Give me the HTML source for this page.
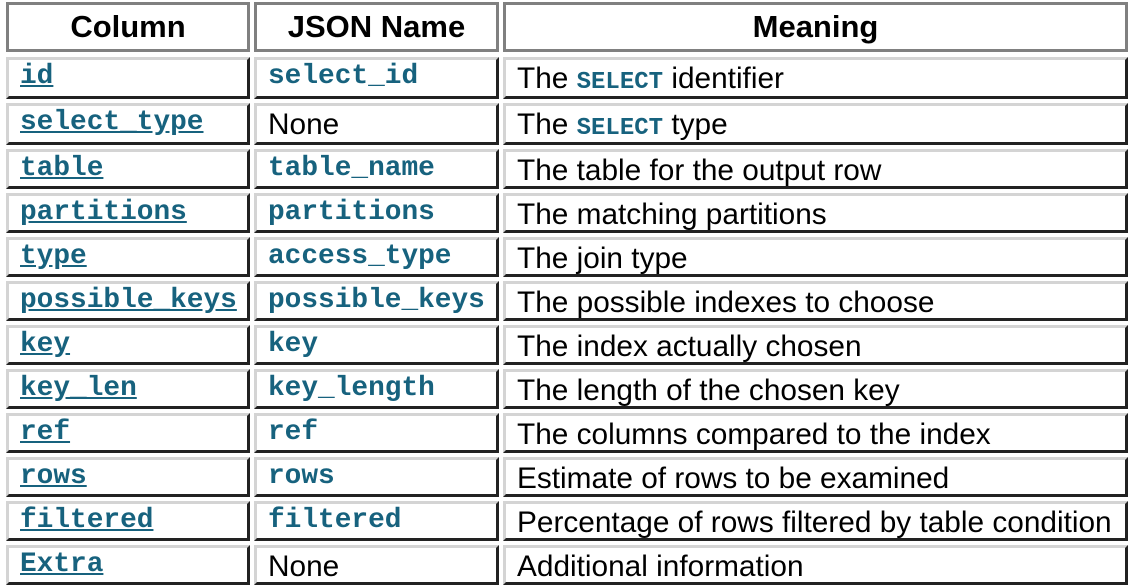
<!DOCTYPE html>
<html><head><meta charset="utf-8"><style>
body{margin:0;width:1134px;height:588px;background:#fff;position:relative;overflow:hidden;font-family:"Liberation Sans",Arial,sans-serif}
.c{position:absolute;box-sizing:border-box;border:3px solid;border-color:#d4d4d4 #222 #222 #d4d4d4;background:#fff;white-space:nowrap}
.h{position:absolute;box-sizing:border-box;border:3px solid #808080;background:#fff;font-weight:bold;font-size:31px;text-align:center;line-height:44px}
.m{font-family:"Liberation Mono","Courier New",monospace;font-weight:bold;font-size:27.8px;color:#17627e;padding-left:11px;line-height:34px}
.u{text-decoration:underline}
.s{font-size:29.8px;padding-left:11px;line-height:37px;color:#000}
.s b{font-family:"Liberation Mono",monospace;color:#17627e;font-size:24px}
</style></head><body>
<div class="h" style="left:6px;top:2px;width:244px;height:50px">Column</div>
<div class="h" style="left:254px;top:2px;width:245px;height:50px">JSON Name</div>
<div class="h" style="left:503px;top:2px;width:625px;height:50px">Meaning</div>
<div id="rows"></div>
<script>
var d=[["id","select_id","The <b>SELECT</b> identifier"],["select_type",null,"The <b>SELECT</b> type"],["table","table_name","The table for the output row"],["partitions","partitions","The matching partitions"],["type","access_type","The join type"],["possible_keys","possible_keys","The possible indexes to choose"],["key","key","The index actually chosen"],["key_len","key_length","The length of the chosen key"],["ref","ref","The columns compared to the index"],["rows","rows","Estimate of rows to be examined"],["filtered","filtered","Percentage of rows filtered by table condition"],["Extra",null,"Additional information"]];
var tops=[57,103,149,193,237,281,325,369,413,457,501,545],h="";
d.forEach(function(r,i){var t=tops[i],ht=i<2?42:40;
h+='<div class="c m" style="left:6px;top:'+t+'px;width:244px;height:'+ht+'px"><span class="u">'+r[0]+'</span></div>';
h+=r[1]?'<div class="c m" style="left:254px;top:'+t+'px;width:245px;height:'+ht+'px">'+r[1]+'</div>':'<div class="c s" style="left:254px;top:'+t+'px;width:245px;height:'+ht+'px">None</div>';
h+='<div class="c s" style="left:503px;top:'+t+'px;width:625px;height:'+ht+'px">'+r[2]+'</div>';});
document.getElementById("rows").innerHTML=h;
</script>
</body></html>
